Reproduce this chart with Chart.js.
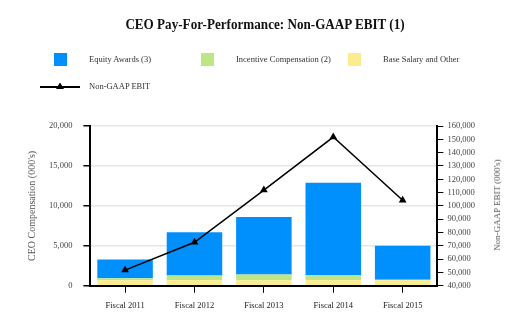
<!DOCTYPE html>
<html>
<head>
<meta charset="utf-8">
<script src="https://cdn.jsdelivr.net/npm/chart.js@4/dist/chart.umd.min.js"></script>
<style>
  html, body { margin: 0; padding: 0; background: #fff; }
  #wrap { position: relative; width: 530px; height: 333px; }
  #c { position: absolute; left: 0; top: 0; }
  #title { position: absolute; left: 0; width: 530px; top: 16px; text-align: center;
    font: bold 15px "Liberation Serif", "DejaVu Serif", serif; color: #111;
    transform: scaleX(0.875); transform-origin: 265px 0; }
  .lg { position: absolute; font: 8.5px "Liberation Serif", serif; color: #333; white-space: nowrap; }
  .box { position: absolute; width: 13px; height: 13px; }
  #rtitle { position: absolute; left: 497px; top: 205px; white-space: nowrap;
    font: 9px "Liberation Serif", serif; color: #555;
    transform: translate(-50%, -50%) rotate(-90deg); }
</style>
</head>
<body>
<div id="wrap">
  <canvas id="c" width="530" height="333"></canvas>
  <div id="title"></div>
  <div id="legend"></div>
  <div id="rtitle"></div>
</div>
<script>
const titleText = "CEO Pay-For-Performance: Non-GAAP EBIT (1)";
const categories = ["Fiscal 2011", "Fiscal 2012", "Fiscal 2013", "Fiscal 2014", "Fiscal 2015"];
const baseSalary = [700, 700, 700, 700, 700];
const incentiveComp = [250, 600, 700, 650, 50];
const equityAwards = [2350, 5400, 7200, 11550, 4250];
const nonGaapEbit = [51800, 72700, 111900, 151700, 104200];
const seriesNames = ["Equity Awards (3)", "Incentive Compensation (2)", "Base Salary and Other", "Non-GAAP EBIT"];
const leftAxisTitle = "CEO Compensation (000's)";
const rightAxisTitle = "Non-GAAP EBIT (000's)";

const BLUE = '#0090fe', GREEN = '#bfe584', YELLOW = '#fbec8e';
const serif = '"Liberation Serif", "DejaVu Serif", serif';

document.getElementById('title').textContent = titleText;
document.getElementById('rtitle').textContent = rightAxisTitle;

// HTML legend
const lg = document.getElementById('legend');
const boxItems = [[seriesNames[0], BLUE, 54], [seriesNames[1], GREEN, 201], [seriesNames[2], YELLOW, 348]];
boxItems.forEach(([name, col, x]) => {
  const b = document.createElement('div'); b.className = 'box';
  b.style.left = x + 'px'; b.style.top = '53px'; b.style.background = col; lg.appendChild(b);
  const t = document.createElement('div'); t.className = 'lg';
  t.style.left = (x + 35) + 'px'; t.style.top = '54px'; t.textContent = name; lg.appendChild(t);
});
const lineSvg = document.createElementNS('http://www.w3.org/2000/svg', 'svg');
lineSvg.setAttribute('width', '45'); lineSvg.setAttribute('height', '12');
lineSvg.style.position = 'absolute'; lineSvg.style.left = '39px'; lineSvg.style.top = '81px';
lineSvg.innerHTML = '<line x1="1" y1="6" x2="41" y2="6" stroke="#000" stroke-width="2"/><polygon points="21,1.5 25,8 17,8" fill="#000"/>';
lg.appendChild(lineSvg);
const lt = document.createElement('div'); lt.className = 'lg';
lt.style.left = '89px'; lt.style.top = '81px'; lt.textContent = seriesNames[3]; lg.appendChild(lt);

const fmt = v => Number(v).toLocaleString('en-US');

new Chart(document.getElementById('c'), {
  data: {
    labels: categories,
    datasets: [
      { type: 'line', label: seriesNames[3], data: nonGaapEbit, yAxisID: 'y1',
        borderColor: '#000', backgroundColor: '#000', borderWidth: 1.5,
        pointStyle: 'triangle', pointRadius: 4.5, pointBackgroundColor: '#000', pointBorderWidth: 0,
        tension: 0, order: 0 },
      { type: 'bar', label: seriesNames[2], data: baseSalary, backgroundColor: YELLOW, stack: 's', yAxisID: 'y', order: 1 },
      { type: 'bar', label: seriesNames[1], data: incentiveComp, backgroundColor: GREEN, stack: 's', yAxisID: 'y', order: 1 },
      { type: 'bar', label: seriesNames[0], data: equityAwards, backgroundColor: BLUE, stack: 's', yAxisID: 'y', order: 1 }
    ]
  },
  options: {
    responsive: false,
    animation: false,
    devicePixelRatio: 1,
    layout: { padding: { top: 126, left: 23, right: 51, bottom: 14 } },
    plugins: { legend: { display: false }, title: { display: false }, tooltip: { enabled: false } },
    datasets: { bar: { barPercentage: 0.8, categoryPercentage: 1.0 } },
    scales: {
      x: {
        stacked: true,
        grid: { display: true, drawOnChartArea: false, offset: false, tickColor: '#000', tickLength: 7, tickWidth: 1 },
        border: { color: '#000', width: 2 },
        ticks: { color: '#222', padding: 8, font: { family: serif, size: 8.5 } }
      },
      y: {
        position: 'left', stacked: true, min: 0, max: 20000,
        ticks: { stepSize: 5000, color: '#444', padding: 11, font: { family: serif, size: 8.5 }, callback: v => fmt(v) },
        grid: { color: '#e6e6e6', lineWidth: 1.5, tickColor: '#000', tickLength: 7 },
        border: { color: '#000', width: 2 },
        title: { display: true, text: leftAxisTitle, color: '#555', padding: { top: 3, bottom: 0 }, font: { family: serif, size: 10 } }
      },
      y1: {
        position: 'right', min: 40000, max: 160000,
        ticks: { stepSize: 10000, color: '#444', padding: 4, font: { family: serif, size: 8.5 }, callback: v => fmt(v) },
        grid: { drawOnChartArea: false, tickColor: '#000', tickLength: 6 },
        border: { color: '#000', width: 2 },
        title: { display: false }
      }
    }
  }
});
</script>
</body>
</html>
